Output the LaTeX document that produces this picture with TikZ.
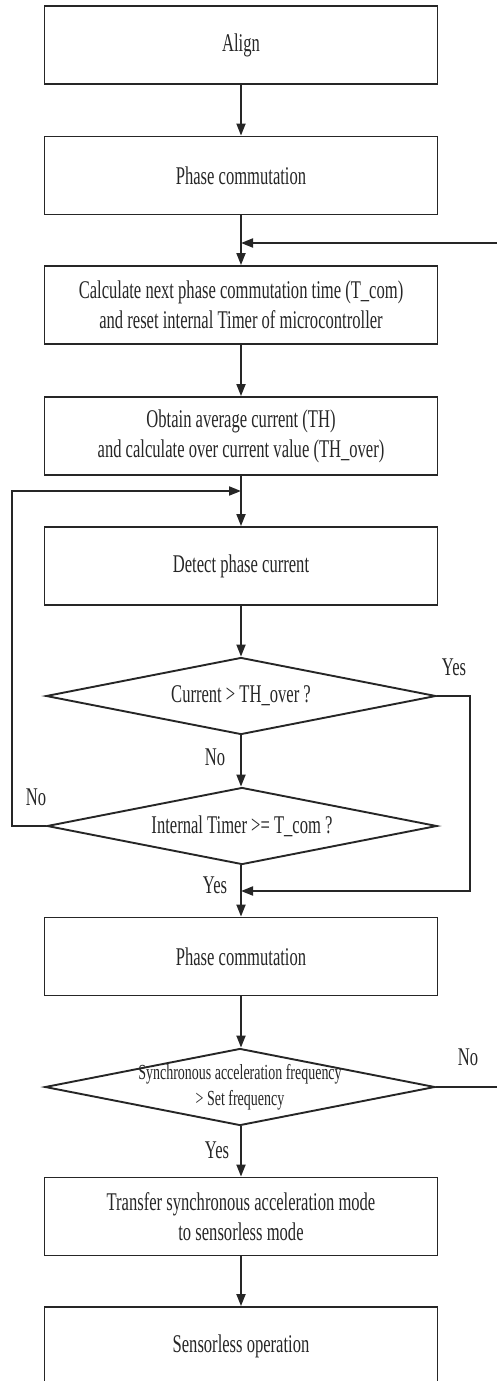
\documentclass[tikz,border=0pt]{standalone}
\usepackage{fontspec}
\setmainfont{Liberation Serif}[FakeStretch=0.65]
\usetikzlibrary{shapes.geometric,arrows.meta}
\definecolor{ink}{rgb}{0.15,0.15,0.15}
\tikzset{
  every node/.style={text=ink},
  box/.style={draw=ink, line width=1.9pt, minimum width=393pt, minimum height=78pt, inner sep=0pt, align=center, font=\fontsize{25.5}{30}\selectfont},
  dia/.style={draw=ink, diamond, line width=1.9pt, minimum width=390pt, minimum height=77pt, inner sep=0pt},
  dtext/.style={font=\fontsize{25.5}{30}\selectfont, align=center, inner sep=0pt},
  lab/.style={font=\fontsize{25.5}{30}\selectfont, inner sep=0pt},
  arr/.style={draw=ink, line width=1.9pt, -{Triangle[length=12pt,width=9pt]}},
  ln/.style={draw=ink, line width=1.9pt}
}
\begin{document}
\begin{tikzpicture}[x=1pt,y=-1pt]
\useasboundingbox (0,0) rectangle (496,1381);
\node[box] (align) at (241,45) {Align};
\node[box] (pc1) at (241,175.5) {Phase commutation};
\coordinate (j1) at (241,243);
\node[box] (calc) at (241,305) {Calculate next phase commutation time (T\_com)\\and reset internal Timer of microcontroller};
\node[box] (obt) at (241,436) {Obtain average current (TH)\\and calculate over current value (TH\_over)};
\coordinate (j2) at (241,491);
\node[box] (det) at (241,566) {Detect phase current};
\node[dia, label={[dtext]center:Current > TH\_over ?}] (d1) at (241,696) {};
\node[dia, label={[dtext]center:Internal Timer >= T\_com ?}] (d2) at (242,826) {};
\coordinate (j3) at (241,891);
\node[box] (pc2) at (241,956.5) {Phase commutation};
\node[dia, label={[dtext,font=\fontsize{21.5}{26.5}\selectfont]center:Synchronous acceleration frequency\\> Set frequency}] (d3) at (240,1087) {};
\node[box] (tr) at (241,1216.5) {Transfer synchronous acceleration mode\\to sensorless mode};
\node[box] (sl) at (241,1346) {Sensorless operation};

\draw[arr] (align) -- (pc1);
\draw[ln] (pc1.south) -- (j1);
\draw[arr] (j1) -- (calc.north);
\draw[arr] (d3.east) -- (500,1087) |- (j1);
\node[lab] (lno3) at (468,1057) {No};
\draw[arr] (calc) -- (obt);
\draw[ln] (obt.south) -- (j2);
\draw[arr] (j2) -- (det.north);
\draw[arr] (det) -- (d1.north);
\draw[arr] (d1.south) -- (d2.north -| d1.south);
\node[lab] (lno1) at (215,757) {No};
\draw[arr] (d1.east) -- (470,696) |- (j3);
\node[lab] (lyes1) at (454,667) {Yes};
\draw[arr] (d2.west) -- (12,826) |- (j2);
\node[lab] (lno2) at (36,797) {No};
\draw[ln] (d2.south -| j3) -- (j3);
\draw[arr] (j3) -- (pc2.north);
\node[lab] (lyes2) at (215,885) {Yes};
\draw[arr] (pc2) -- (d3.north -| pc2.south);
\draw[arr] (d3.south -| tr.north) -- (tr.north);
\node[lab] (lyes3) at (217,1150) {Yes};
\draw[arr] (tr) -- (sl);
\end{tikzpicture}
\end{document}
